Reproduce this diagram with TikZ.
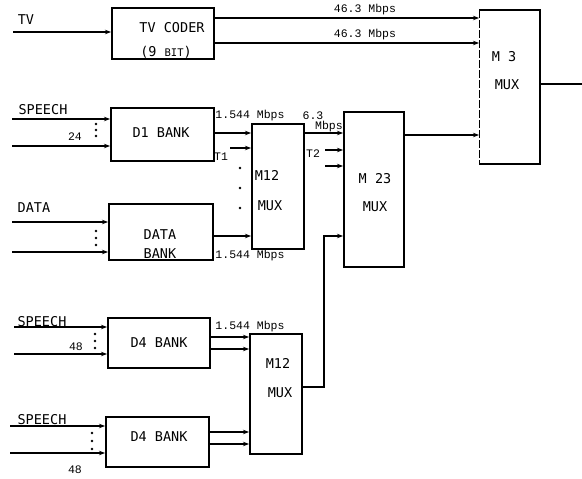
\documentclass[tikz,border=0pt]{standalone}
\usepackage{fontspec}
\newfontfamily\boxfont{DejaVu Sans Mono}
\newfontfamily\ratefont{Liberation Mono}
\usetikzlibrary{arrows.meta}
\begin{document}
\begin{tikzpicture}[x=1pt,y=-1pt,
  blk/.style={draw, line width=1.7pt, inner sep=0pt, anchor=north west},
  wire/.style={line width=1.6pt},
  arr/.style={line width=1.6pt, -{Stealth[length=6pt,width=4.5pt]}},
  lbl/.style={font=\boxfont\fontsize{13.5}{14}\selectfont, inner sep=0pt},
  rate/.style={font=\ratefont\fontsize{11.5}{12}\selectfont, inner sep=0pt},
  dot/.style={circle, fill, inner sep=0pt, minimum size=2.6pt}]
\useasboundingbox (0,0) rectangle (582,479);
% boxes
\node[blk, minimum width=102pt, minimum height=51pt] (tv) at (111,7) {};
\node[blk, draw=none, minimum width=59pt, minimum height=152pt] (m3) at (479,10) {};
\draw[line width=1.7pt] (m3.north west) -- (m3.north east) -- (m3.south east) -- (m3.south west);
\draw[line width=0.6pt, dash pattern=on 8pt off 2pt] (m3.north west) -- (m3.south west);
\node[blk, minimum width=103pt, minimum height=53pt] (d1) at (110,107) {};
\node[blk, minimum width=104pt, minimum height=56pt] (data) at (108,203) {};
\node[blk, minimum width=52pt, minimum height=125pt] (m12a) at (251,123) {};
\node[blk, minimum width=60pt, minimum height=155pt] (m23) at (343,111) {};
\node[blk, minimum width=102pt, minimum height=50pt] (d4a) at (107,317) {};
\node[blk, minimum width=52pt, minimum height=120pt] (m12b) at (249,333) {};
\node[blk, minimum width=103pt, minimum height=50pt] (d4b) at (105,416) {};
% box texts
\node[lbl] (tvt1) at (172,28) {TV CODER};
\node[lbl] (tvt2) at (166,52) {(9 {\fontsize{10.5}{11}\selectfont BIT})};
\node[lbl] (m3t1) at (504,57) {M 3};
\node[lbl] (m3t2) at (507,85) {MUX};
\node[lbl] (d1t) at (161,133) {D1 BANK};
\node[lbl] (datat1) at (160,235) {DATA};
\node[lbl] (datat2) at (160,254) {BANK};
\node[lbl] (m12at1) at (267,175) {M12};
\node[lbl] (m12at2) at (270,206) {MUX};
\node[lbl] (m23t1) at (375,179) {M 23};
\node[lbl] (m23t2) at (375,207) {MUX};
\node[lbl] (d4at) at (159,343) {D4 BANK};
\node[lbl] (m12bt1) at (278,363) {M12};
\node[lbl] (m12bt2) at (280,393) {MUX};
\node[lbl] (d4bt) at (159,437) {D4 BANK};
% input labels
\node[lbl] (tvl) at (26,20) {TV};
\node[lbl] (sp1) at (43,110) {SPEECH};
\node[lbl] (dl) at (34,208) {DATA};
\node[lbl] (sp2) at (42,322) {SPEECH};
\node[lbl] (sp3) at (42,420) {SPEECH};
\node[rate] (n24) at (75,137) {24};
\node[rate] (n48a) at (76,347) {48};
\node[rate] (n48b) at (75,470) {48};
% free-end coordinates
\coordinate (tvin) at (13,32);
\coordinate (s1a) at (12,119);
\coordinate (s1b) at (12,146);
\coordinate (da) at (12,222);
\coordinate (db) at (12,252);
\coordinate (s2a) at (14,327);
\coordinate (s2b) at (14,354);
\coordinate (s3a) at (10,426);
\coordinate (s3b) at (10,453);
\coordinate (outm3) at (582,84);
\coordinate (t1s) at (230,148);
\coordinate (t2a) at (325,150);
\coordinate (t2b) at (325,166);
% inputs
\draw[arr] (tvin) -- (tvin -| tv.west);
\draw[arr] (s1a) -- (s1a -| d1.west);
\draw[arr] (s1b) -- (s1b -| d1.west);
\draw[arr] (da) -- (da -| data.west);
\draw[arr] (db) -- (db -| data.west);
\draw[arr] (s2a) -- (s2a -| d4a.west);
\draw[arr] (s2b) -- (s2b -| d4a.west);
\draw[arr] (s3a) -- (s3a -| d4b.west);
\draw[arr] (s3b) -- (s3b -| d4b.west);
% TV coder to M3
\draw[arr] (tv.east |- 0,18) -- (m3.west |- 0,18);
\draw[arr] (tv.east |- 0,43) -- (m3.west |- 0,43);
\node[rate] (r1) at (365,10) {46.3 Mbps};
\node[rate] (r2) at (365,35) {46.3 Mbps};
% D1 and DATA to M12
\draw[arr] (d1.east |- 0,133) -- (m12a.west |- 0,133);
\draw[arr] (t1s) -- (t1s -| m12a.west);
\draw[arr] (data.east |- 0,236) -- (m12a.west |- 0,236);
\node[rate] (r3) at (250,116) {1.544 Mbps};
\node[rate] (r4) at (250,256) {1.544 Mbps};
\node[rate] (t1l) at (221,157) {T1};
\node[dot] (dd1) at (240,168) {};
\node[dot] (dd2) at (240,188) {};
\node[dot] (dd3) at (240,208) {};
% M12 to M23
\draw[arr] (m12a.east |- 0,133) -- (m23.west |- 0,133);
\node[rate] (r5) at (313,116) {6.3};
\node[rate] (r6) at (329,127) {Mbps};
\node[rate] (t2l) at (313,154) {T2};
\draw[arr] (t2a) -- (t2a -| m23.west);
\draw[arr] (t2b) -- (t2b -| m23.west);
% lower M12 to M23
\draw[arr] (m12b.east |- 0,387) -- (324,387) -- (324,236) -- (m23.west |- 0,236);
% D4 banks to lower M12
\draw[arr] (d4a.east |- 0,337) -- (m12b.west |- 0,337);
\draw[arr] (d4a.east |- 0,349) -- (m12b.west |- 0,349);
\draw[arr] (d4b.east |- 0,432) -- (m12b.west |- 0,432);
\draw[arr] (d4b.east |- 0,444) -- (m12b.west |- 0,444);
\node[rate] (r7) at (250,327) {1.544 Mbps};
% M23 to M3, M3 out
\draw[arr] (m23.east |- 0,135) -- (m3.west |- 0,135);
\draw[wire] (m3.east |- outm3) -- (outm3);
% vertical dots
\foreach \y in {124,130,136} \node[dot] at (96,\y) {};
\foreach \y in {231,238,245} \node[dot] at (96,\y) {};
\foreach \y in {334,341,348} \node[dot] at (95,\y) {};
\foreach \y in {433,441,449} \node[dot] at (92,\y) {};
\end{tikzpicture}
\end{document}
